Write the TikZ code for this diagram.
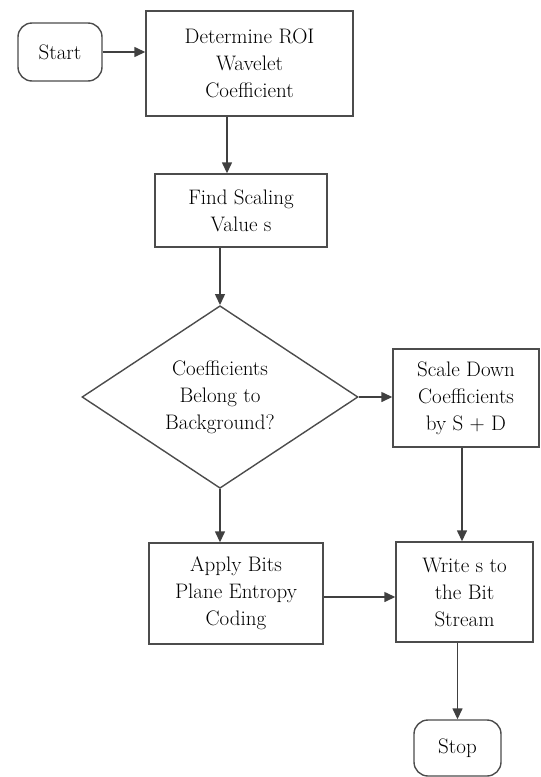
\documentclass[tikz,border=0pt]{standalone}
\usetikzlibrary{shapes.geometric,arrows.meta}

\begin{document}
\begin{tikzpicture}
[x=1pt,y=-1pt,
 boxDecorate/.style={draw=black!70,line width=1.4pt,fill=white,align=center,
   inner sep=2pt,text=black,font=\fontsize{21}{27}\selectfont},
 termDecorate/.style={boxDecorate,rounded corners=14pt},
 decideDecorate/.style={boxDecorate,shape=diamond,inner sep=0pt},
 lineDecorate/.style={draw=black!75,line width=1.4pt,-{Triangle[length=11pt,width=10pt]}}]
\useasboundingbox (0,0) rectangle (541,777);
%% process boxes
\foreach \nodename/\x/\y/\w/\h/\txt in {
  roi/249.5/63.5/207/105/{Determine ROI\\Wavelet\\Coefficient},
  find/241/210.5/172/73/{Find Scaling\\Value s},
  scale/466/398/146/98/{Scale Down\\Coefficients\\by S + D},
  apply/236/593.5/174/101/{Apply Bits\\Plane Entropy\\Coding},
  write/464.5/592/137/100/{Write s to\\the Bit\\Stream}}
{
  \node (\nodename) at (\x,\y) [boxDecorate,minimum width=\w,minimum height=\h] {\txt};
}
%% start, stop and decision
\node (start) at (60,52) [termDecorate,minimum width=84,minimum height=58] {Start};
\node (stop) at (457.5,748) [termDecorate,minimum width=87,minimum height=56] {Stop};
\node (decide) at (220,397) [decideDecorate,minimum width=276,minimum height=169]
  {Coefficients\\Belong to\\Background?};
%% connectors
\draw[lineDecorate] (start.east) -- (start.east -| roi.west);
\draw[lineDecorate] ([xshift=-22.5pt]roi.south) -- ([xshift=-22.5pt]roi.south |- find.north);
\draw[lineDecorate] (decide.north |- find.south) -- (decide.north);
\draw[lineDecorate] (decide.east) -- (decide.east -| scale.west);
\draw[lineDecorate] (decide.south) -- (decide.south |- apply.north);
\draw[lineDecorate] ([xshift=-4pt]scale.south) -- ([xshift=-4pt]scale.south |- write.north);
\draw[lineDecorate] ([yshift=-3.5pt]apply.east) -- ([yshift=-3.5pt]apply.east -| write.west);
\draw[lineDecorate] (stop.north |- write.south) -- (stop.north);
\end{tikzpicture}
\end{document}
